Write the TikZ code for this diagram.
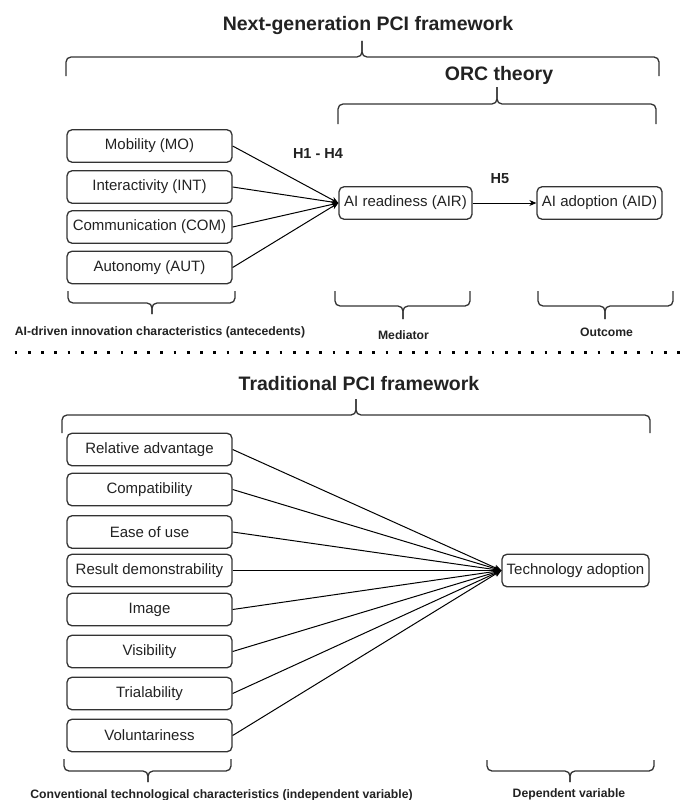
\documentclass[tikz,border=0pt]{standalone}
\usepackage{fontspec}
\setmainfont{Liberation Sans}
\usetikzlibrary{arrows.meta}
\definecolor{edge}{HTML}{333333}
\definecolor{ink}{HTML}{222222}
\newcommand\mybrace[6]{%
  \draw[bracestyle] (#1,#3) |- (#5,#4) -- (#5,#6);
  \draw[bracestyle] (#2,#3) |- (#5,#4) -- (#5,#6);}
\begin{document}
\begin{tikzpicture}[x=1pt,y=-1pt,
  box/.style={draw=edge,line width=1.3pt,rounded corners=5pt,minimum width=165pt,minimum height=32.5pt,inner sep=0pt,font=\fontsize{15}{17}\selectfont,text=ink},
  bracestyle/.style={draw=edge,line width=1.3pt,rounded corners=5pt},
  title/.style={font=\fontsize{19.5}{22}\selectfont\bfseries,text=ink},
  small/.style={font=\fontsize{12.2}{14}\selectfont\bfseries,text=ink},
  hyp/.style={font=\fontsize{14.5}{16}\selectfont\bfseries,text=ink},
  conn/.style={draw=black,line width=1pt,-{Stealth[length=7pt,width=6pt]}}]
\useasboundingbox (0,0) rectangle (689,800);
\fill[white] (0,0) rectangle (689,800);
% ---- upper section ----
\node[title] (t1) at (368,26) {Next-generation PCI framework};
\mybrace{66}{659}{76}{57}{362}{41}
\node[title] (t2) at (499,75) {ORC theory};
\mybrace{338}{656}{124}{104}{497}{87}
\node[box] (mo)  at (149.5,146) {Mobility (MO)};
\node[box] (int) at (149.5,187) {Interactivity (INT)};
\node[box] (com) at (149.5,227) {Communication (COM)};
\node[box] (aut) at (149.5,267.5) {Autonomy (AUT)};
\node[box,minimum width=133pt] (air) at (405.5,203) {AI readiness (AIR)};
\node[box,minimum width=125pt] (aid) at (599.5,203) {AI adoption (AID)};
\foreach \s in {mo,int,com,aut} \draw[conn] (\s.east) -- (air.west);
\draw[conn] (air.east) -- (aid.west);
\node[hyp] (h14) at (318,154) {H1 - H4};
\node[hyp] (h5) at (500,179) {H5};
\mybrace{68}{235}{291}{303}{152}{314}
\mybrace{335}{470}{291}{306}{403}{319}
\mybrace{538}{673}{291}{306}{605}{319}
\node[small] (l1) at (160,332) {AI-driven innovation characteristics (antecedents)};
\node[small] (l2) at (403.5,335) {Mediator};
\node[small] (l3) at (606.5,332) {Outcome};
% ---- separator ----
\draw[black,line width=2.6pt,dash pattern=on 2.6pt off 10.65pt] (14.7,352.7) -- (689,352.7);
% ---- lower section ----
\node[title] (t3) at (359,384) {Traditional PCI framework};
\mybrace{62}{650}{433}{415}{356}{399}
\node[box] (ra)  at (149.5,449.5) {Relative advantage};
\node[box] (cp)  at (149.5,489.5) {Compatibility};
\node[box] (eu)  at (149.5,532) {Ease of use};
\node[box] (rd)  at (149.5,570.5) {Result demonstrability};
\node[box] (im)  at (149.5,609.5) {Image};
\node[box] (vi)  at (149.5,651.5) {Visibility};
\node[box] (tr)  at (149.5,693.5) {Trialability};
\node[box] (vo)  at (149.5,735.5) {Voluntariness};
\node[box,minimum width=147pt] (ta) at (575.5,570.5) {Technology adoption};
\foreach \s in {ra,cp,eu,rd,im,vi,tr,vo} \draw[conn] (\s.east) -- (ta.west);
\mybrace{64}{231}{759}{771}{148}{782}
\mybrace{487}{654}{760}{771}{570}{782}
\node[small] (l4) at (221.5,795) {Conventional technological characteristics (independent variable)};
\node[small] (l5) at (569,794) {Dependent variable};
\end{tikzpicture}
\end{document}
